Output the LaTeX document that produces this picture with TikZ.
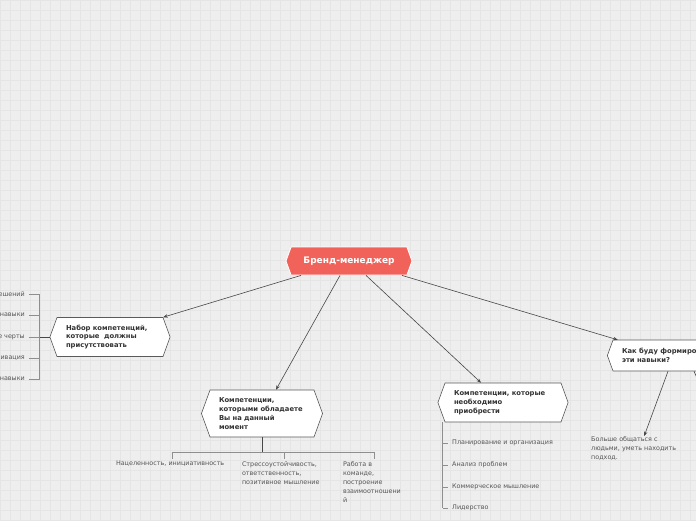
\documentclass[tikz,border=0pt]{standalone}
\usepackage{fontspec}
\setmainfont{DejaVu Sans}
\usepackage{tikz}
\usetikzlibrary{shapes.symbols, positioning, arrows.meta, calc}
\definecolor{rootred}{HTML}{F1635A}
\definecolor{paper}{HTML}{EEEEEE}
\definecolor{gridline}{HTML}{E5E5E5}
\definecolor{linkgray}{HTML}{474747}
\definecolor{branchgray}{HTML}{8E8E8E}
\definecolor{labelgray}{HTML}{555555}
\definecolor{hexborder}{HTML}{5A5A5A}

\begin{document}
\begin{tikzpicture}[
  x=1pt, y=-1pt,
  hexnode/.style={signal, signal to=west and east, signal pointer angle=140, draw=hexborder, fill=white, line width=0.6pt, inner xsep=9pt, inner ysep=3pt, align=left, text=black!80, font=\fontsize{6.8}{8.8}\selectfont\bfseries},
  rootnode/.style={hexnode, fill=rootred, draw=white, line width=0.8pt, text=white, font=\fontsize{9}{11}\selectfont\bfseries, align=center},
  leaf/.style={inner sep=0pt, align=left, text=labelgray, font=\fontsize{6.4}{9}\selectfont},
  link/.style={draw=linkgray, line width=0.6pt, -{Stealth[length=4.5pt,width=3.5pt]}},
  branch/.style={draw=branchgray, line width=0.6pt},
  stem/.style={draw=linkgray, line width=1pt}
]
\useasboundingbox (0,0) rectangle (696,520);
\clip (0,0) rectangle (696,520);
\fill[paper] (0,0) rectangle (696,520);
\foreach \gx in {0,10,...,690} \draw[gridline, line width=0.5pt] (\gx,0) -- (\gx,520);
\foreach \gy in {0,10,...,520} \draw[gridline, line width=0.5pt] (0,\gy) -- (696,\gy);

\node[rootnode, minimum width=126pt, minimum height=28pt] (root) at (349,261) {Бренд-менеджер};
\node[hexnode, text width=88pt, minimum height=39pt] (nA) at (110,337) {Набор компетенций,\\которые\ \ должны\\присутствовать};
\node[hexnode, text width=86pt, minimum height=47pt] (nB) at (262,413.5) {Компетенции,\\которыми обладаете\\Вы на данный\\момент};
\node[hexnode, text width=98pt, minimum height=39pt] (nC) at (503,402.5) {Компетенции, которые\\необходимо\\приобрести};
\node[hexnode, text width=96pt, minimum height=31pt] (nD) at (670,355.5) {Как буду формировать\\эти навыки?};
\node[leaf, anchor=north west, text width=86pt] (nE) at (591,436) {Больше общаться с\\людьми, уметь находить\\подход.};

\draw[link] ([xshift=-48pt]root.south) -- (nA.north east);
\draw[link] ([xshift=-9pt]root.south) -- ([xshift=14pt]nB.north);
\draw[link] ([xshift=17pt]root.south) -- ([xshift=-22pt]nC.north);
\draw[link] ([xshift=53pt]root.south) -- ([xshift=5pt]nD.north west);
\draw[link] ([xshift=-2pt]nD.south) -- ([xshift=10pt]nE.north);
\coordinate (offright) at (720,430);
\draw[linkgray, line width=0.6pt] ([xshift=24pt]nD.south) -- (offright);

\foreach \i/\t/\yy in {1/ешений/294, 2/навыки/315, 3/е черты/337, 4/ивация/358, 5/навыки/379}
  \node[leaf, anchor=east] (la\i) at (25,\yy) {\t};
\draw[stem] (nA.west) -- ++(-10,0) coordinate (aj);
\draw[branch] (aj |- la1) -- (aj |- la5);
\foreach \i in {1,...,5} \draw[branch] ([xshift=4pt]la\i.east) -- (aj |- la\i);

\node[leaf, anchor=north, text width=112pt] (lb1) at (172,461) {Нацеленность, инициативность};
\node[leaf, anchor=north, text width=84pt] (lb2) at (284,461) {Стрессоустойчивость,\\ответственность,\\позитивное мышление};
\node[leaf, anchor=north, text width=62pt] (lb3) at (374,461) {Работа в\\команде,\\построение\\взаимоотношени\\й};
\draw[stem] (nB.south) -- ++(0,15) coordinate (bj);
\draw[branch] (bj -| lb1.north) -- (bj -| lb3.north);
\foreach \i in {1,2,3} \draw[branch] (bj -| lb\i.north) -- ([yshift=2pt]lb\i.north);

\foreach \i/\t/\yy in {1/Планирование и организация/443, 2/Анализ проблем/465, 3/Коммерческое мышление/487, 4/Лидерство/508}
  \node[leaf, anchor=west] (lc\i) at (452,\yy) {\t};
\coordinate (cj) at ([xshift=-2pt]nC.south west);
\draw[branch] (cj) -- (cj |- lc4);
\foreach \i in {1,...,4} \draw[branch] (cj |- lc\i) -- ([xshift=-4pt]lc\i.west);
\end{tikzpicture}
\end{document}
